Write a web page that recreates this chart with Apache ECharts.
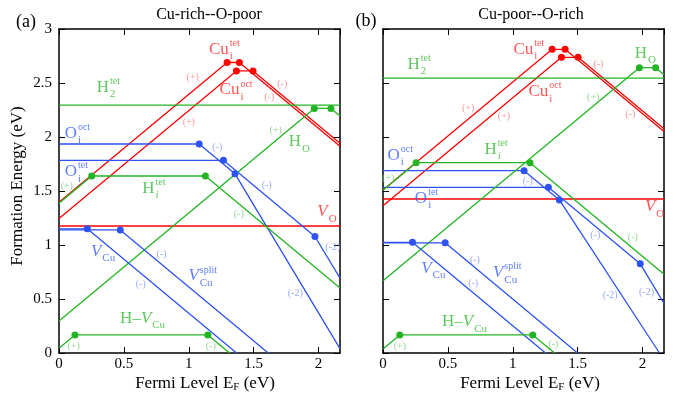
<!DOCTYPE html>
<html><head><meta charset="utf-8">
<script src="https://cdn.jsdelivr.net/npm/echarts@6/dist/echarts.min.js"></script>
<style>html,body{margin:0;padding:0;background:#fff}#c{width:677px;height:396px}</style>
</head><body><div id="c"></div>
<script>
// ---------- DATA ----------
const xMin = 0, xMax = 2.165;
const yMin = 0, yMax = 3;
const panelTitles = ['Cu-rich--O-poor', 'Cu-poor--O-rich'];
const panelTags = ['(a)', '(b)'];

// Panel (a): Cu-rich--O-poor, breakpoints [Fermi level (eV), formation energy (eV)]
const a_CuiTet   = [[0,1.395],[1.295,2.69],[1.39,2.69],[2.165,1.915]];
const a_CuiOct   = [[0,1.245],[1.367,2.612],[1.495,2.612],[2.165,1.942]];
const a_VO       = [[0,1.176],[2.165,1.176]];
const a_H2tet    = [[0,2.296],[2.165,2.296]];
const a_OiOct    = [[0,1.935],[1.08,1.935],[1.356,1.659],[2.165,0.04]];
const a_OiTet    = [[0,1.784],[1.267,1.784],[1.972,1.079],[2.165,0.693]];
const a_HiTet    = [[0,1.387],[0.252,1.639],[1.128,1.639],[2.165,0.602]];
const a_HO       = [[0,0.296],[1.967,2.265],[2.095,2.265],[2.165,2.195]];
const a_VCu      = [[0,1.15],[0.218,1.15],[1.368,0]];
const a_VCuSplit = [[0,1.14],[0.472,1.14],[1.612,0]];
const a_HVCu     = [[0,0.044],[0.123,0.167],[1.147,0.167],[1.314,0]];

// Panel (b): Cu-poor--O-rich
const b_CuiTet   = [[0,1.509],[1.303,2.812],[1.403,2.812],[2.165,2.05]];
const b_CuiOct   = [[0,1.363],[1.375,2.738],[1.503,2.738],[2.165,2.076]];
const b_VO       = [[0,1.426],[2.165,1.426]];
const b_H2tet    = [[0,2.546],[2.165,2.546]];
const b_OiOct    = [[0,1.688],[1.087,1.688],[1.359,1.417],[2.13,0]];
const b_OiTet    = [[0,1.534],[1.274,1.534],[1.982,0.826],[2.165,0.46]];
const b_HiTet    = [[0,1.507],[0.255,1.762],[1.133,1.762],[2.165,0.73]];
const b_HO       = [[0,0.67],[1.975,2.642],[2.1,2.642],[2.165,2.577]];
const b_VCu      = [[0,1.025],[0.227,1.025],[1.252,0]];
const b_VCuSplit = [[0,1.02],[0.479,1.02],[1.499,0]];
const b_HVCu     = [[0,0.038],[0.129,0.167],[1.154,0.167],[1.321,0]];

// defect name -> colour family
const defectKind = {CuiTet:'r', CuiOct:'r', VO:'r', H2tet:'g', OiOct:'b', OiTet:'b', HiTet:'g', HO:'g', VCu:'b', VCuSplit:'b', HVCu:'g'};
const panelA = {CuiTet:a_CuiTet, CuiOct:a_CuiOct, VO:a_VO, H2tet:a_H2tet, OiOct:a_OiOct, OiTet:a_OiTet, HiTet:a_HiTet, HO:a_HO, VCu:a_VCu, VCuSplit:a_VCuSplit, HVCu:a_HVCu};
const panelB = {CuiTet:b_CuiTet, CuiOct:b_CuiOct, VO:b_VO, H2tet:b_H2tet, OiOct:b_OiOct, OiTet:b_OiTet, HiTet:b_HiTet, HO:b_HO, VCu:b_VCu, VCuSplit:b_VCuSplit, HVCu:b_HVCu};

// defect labels (anchor = end of main text, data coords)
const a_names = [
  {x:1.308,y:2.81, m:'Cu', sup:'tet', sub:'i', k:'r'},
  {x:1.39, y:2.435,m:'Cu', sup:'oct', sub:'i', k:'r'},
  {x:0.385,y:2.46, m:'H',  sup:'tet', sub:'2', k:'g'},
  {x:0.138,y:2.034,m:'O',  sup:'oct', sub:'i', k:'b'},
  {x:0.138,y:1.679,m:'O',  sup:'tet', sub:'i', k:'b'},
  {x:0.736,y:1.525,m:'H',  sup:'tet', sub:'{i|i}', k:'g'},
  {x:1.865,y:1.957,m:'H',  sub:'O', k:'g'},
  {x:2.07, y:1.308,m:'{i|V}', sub:'O', k:'r'},
  {x:0.326,y:0.944,m:'{i|V}', sub:'Cu', k:'b'},
  {x:1.077,y:0.713,m:'{i|V}', sup:'split', sub:'Cu', k:'b'},
  {x:0.711,y:0.321,m:'H\u2013{i|V}', sub:'Cu', k:'g'}
];
const b_names = [
  {x:1.158,y:2.81, m:'Cu', sup:'tet', sub:'i', k:'r'},
  {x:1.274,y:2.42, m:'Cu', sup:'oct', sub:'i', k:'r'},
  {x:0.283,y:2.673,m:'H',  sup:'tet', sub:'2', k:'g'},
  {x:2.034,y:2.775,m:'H',  sub:'O', k:'g'},
  {x:0.876,y:1.886,m:'H',  sup:'tet', sub:'{i|i}', k:'g'},
  {x:0.129,y:1.833,m:'O',  sup:'oct', sub:'i', k:'b'},
  {x:0.34, y:1.432,m:'O',  sup:'tet', sub:'i', k:'b'},
  {x:2.098,y:1.355,m:'{i|V}', sub:'O', k:'r'},
  {x:0.374,y:0.784,m:'{i|V}', sub:'Cu', k:'b'},
  {x:0.927,y:0.744,m:'{i|V}', sup:'split', sub:'Cu', k:'b'},
  {x:0.695,y:0.29, m:'H\u2013{i|V}', sub:'Cu', k:'g'}
];
// charge-state labels [text, x, y, colour family]
const a_charges = [
  ['(+)',1.03,2.55,'r'],['(+)',1.0,2.14,'r'],['(-)',1.72,2.49,'r'],['(-)',1.62,2.37,'r'],
  ['(+)',0.06,1.54,'g'],['(-)',1.22,1.90,'b'],['(+)',1.67,2.065,'g'],['(-)',1.6,1.555,'b'],
  ['(-)',1.385,1.28,'g'],['(-2)',2.11,0.98,'b'],['(-2)',1.82,0.55,'b'],['(-)',0.79,0.91,'b'],
  ['(-)',0.63,0.64,'b'],['(+)',0.113,0.065,'g'],['(-)',1.17,0.065,'g']
];
const b_charges = [
  ['(-)',1.66,2.67,'r'],['(-)',1.905,2.21,'r'],['(+)',0.656,2.265,'r'],['(+)',0.932,2.19,'r'],
  ['(+)',1.62,2.37,'g'],['(+)',0.04,1.618,'g'],['(-)',1.115,1.586,'b'],['(-)',1.635,1.09,'b'],
  ['(-)',1.925,1.07,'g'],['(-2)',1.75,0.53,'b'],['(-2)',2.03,0.56,'b'],['(-)',0.708,0.86,'b'],
  ['(-)',0.695,0.645,'b'],['(+)',0.13,0.06,'g'],['(-)',1.313,0.083,'g']
];

// ---------- STYLE ----------
const FONT = 'Liberation Serif';
const lineCol = {r:'#ff0000', g:'#22b422', b:'#2d52f2'};
const nameCol = {r:'#ff2a2a', g:'#35bb35', b:'#3a5cff'};
const chargeCol = {r:'#ff7a7a', g:'#77cc77', b:'#7d93ff'};

const grids = [
  {left:59, top:29, width:281, height:324},
  {left:383, top:29, width:281, height:324}
];

function xAxes(gi) {
  const base = {type:'value', gridIndex:gi, min:xMin, max:xMax, interval:0.5,
    axisLine:{show:true, onZero:false, lineStyle:{color:'#000', width:1.5}},
    axisTick:{show:true, inside:true, length:6, lineStyle:{color:'#000', width:1}},
    splitLine:{show:false}};
  return [
    Object.assign({}, base, {position:'bottom',
      axisLabel:{show:true, margin:4, fontFamily:FONT, fontSize:15, color:'#000', showMaxLabel:false,
        formatter: v => (Math.abs(v*2 - Math.round(v*2)) < 1e-6 ? String(v) : '')}}),
    Object.assign({}, base, {position:'top', axisLabel:{show:false}})
  ];
}
function yAxes(gi, labels) {
  const base = {type:'value', gridIndex:gi, min:yMin, max:yMax, interval:0.5,
    axisLine:{show:true, onZero:false, lineStyle:{color:'#000', width:1.5}},
    axisTick:{show:true, inside:true, length:6, lineStyle:{color:'#000', width:1}},
    splitLine:{show:false}};
  return [
    Object.assign({}, base, {position:'left',
      axisLabel:{show:labels, margin:7, fontFamily:FONT, fontSize:15, color:'#000'}}),
    Object.assign({}, base, {position:'right', axisLabel:{show:false}})
  ];
}

function defectSeries(panel, axisIdx) {
  return Object.keys(panel).map(key => {
    const pts = panel[key];
    const n = pts.length;
    return {
      type:'line', name:key, xAxisIndex:axisIdx, yAxisIndex:axisIdx,
      data: pts, showSymbol:true, showAllSymbol:true,
      symbol: (v, p) => (p.dataIndex > 0 && p.dataIndex < n - 1) ? 'circle' : 'none',
      symbolSize: 7,
      itemStyle:{color:lineCol[defectKind[key]]},
      lineStyle:{color:lineCol[defectKind[key]], width:1.3},
      clip:true, silent:true, z:2
    };
  });
}

// one text-layer series: all items share alignment / shift / size
function textLayer(items, axisIdx, align, shift, size) {
  return {
    type:'scatter', xAxisIndex:axisIdx, yAxisIndex:axisIdx, symbolSize:0, silent:true, z:5, clip:false,
    data: items.map(it => ({value:[it.x, it.y], t:it.t, label:{color:it.c}})),
    label:{show:true, position:[0,0], align:align, verticalAlign:'middle',
      fontFamily:FONT, fontSize:size, formatter: p => p.data.t,
      rich:{i:{fontStyle:'italic', fontFamily:FONT, fontSize:size}}},
    labelLayout:{dx:shift[0], dy:shift[1], hideOverlap:false}
  };
}

function labelSeries(names, charges, axisIdx) {
  const mains = names.map(d => ({x:d.x, y:d.y, t:d.m, c:nameCol[d.k]}));
  const sups  = names.filter(d => d.sup).map(d => ({x:d.x, y:d.y, t:d.sup, c:nameCol[d.k]}));
  const subsS = names.filter(d => d.sub && d.sup).map(d => ({x:d.x, y:d.y, t:d.sub, c:nameCol[d.k]}));
  const subsN = names.filter(d => d.sub && !d.sup).map(d => ({x:d.x, y:d.y, t:d.sub, c:nameCol[d.k]}));
  const chg   = charges.map(c => ({x:c[1], y:c[2], t:c[0], c:chargeCol[c[3]]}));
  return [
    textLayer(mains, axisIdx, 'right', [0,0], 17),
    textLayer(sups,  axisIdx, 'left',  [1,-6], 10),
    textLayer(subsS, axisIdx, 'left',  [1,7], 11),
    textLayer(subsN, axisIdx, 'left',  [1,7], 11),
    textLayer(chg,   axisIdx, 'center',[0,0], 10)
  ];
}

const subRich = {s:{fontSize:11, fontFamily:FONT, fill:'#000', verticalAlign:'bottom', lineHeight:10, padding:[8,0,0,0]}};
const option = {
  animation:false,
  backgroundColor:'#fff',
  grid: grids,
  xAxis: [...xAxes(0), ...xAxes(1)],
  yAxis: [...yAxes(0, true), ...yAxes(1, false)],
  series: [
    ...defectSeries(panelA, 0), ...labelSeries(a_names, a_charges, 0),
    ...defectSeries(panelB, 2), ...labelSeries(b_names, b_charges, 2)
  ],
  graphic: [
    {type:'text', x:26, y:22, style:{text:panelTags[0], font:'18px "Liberation Serif"', fill:'#000', align:'center', verticalAlign:'middle'}},
    {type:'text', x:209, y:15, style:{text:panelTitles[0], font:'16px "Liberation Serif"', fill:'#000', align:'center', verticalAlign:'middle'}},
    {type:'text', x:366, y:21, style:{text:panelTags[1], font:'18px "Liberation Serif"', fill:'#000', align:'center', verticalAlign:'middle'}},
    {type:'text', x:531, y:15, style:{text:panelTitles[1], font:'16px "Liberation Serif"', fill:'#000', align:'center', verticalAlign:'middle'}},
    {type:'text', x:18, y:186, rotation:Math.PI/2, style:{text:'Formation Energy (eV)', font:'17px "Liberation Serif"', fill:'#000', align:'center', verticalAlign:'middle'}},
    {type:'text', x:205, y:384, style:{text:'Fermi Level E{s|F} (eV)', font:'17px "Liberation Serif"', fill:'#000', align:'center', verticalAlign:'middle', rich:subRich}},
    {type:'text', x:530, y:384, style:{text:'Fermi Level E{s|F} (eV)', font:'17px "Liberation Serif"', fill:'#000', align:'center', verticalAlign:'middle', rich:subRich}}
  ]
};

const chart = echarts.init(document.getElementById('c'), null, {renderer:'canvas'});
chart.setOption(option);
</script>
</body></html>
